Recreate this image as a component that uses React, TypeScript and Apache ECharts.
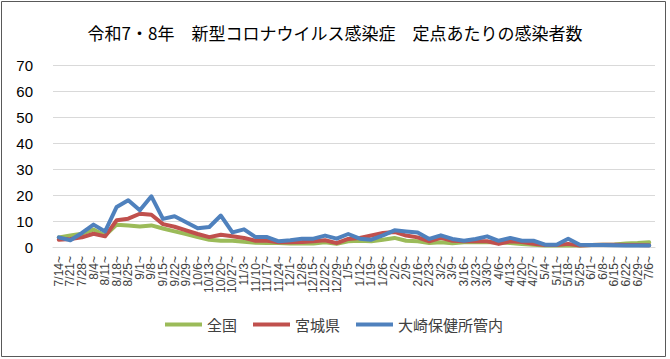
import React, { useEffect, useRef } from "react";
import * as echarts from "echarts";

// Week starting dates (Mondays), Jul 2025 – Jul 2026
const weeks = [
  "7/14~", "7/21~", "7/28~", "8/4~", "8/11~", "8/18~", "8/25~", "9/1~", "9/8~", "9/15~",
  "9/22~", "9/29~", "10/6~", "10/13~", "10/20~", "10/27~", "11/3~", "11/10~", "11/17~", "11/24~",
  "12/1~", "12/8~", "12/15~", "12/22~", "12/29~", "1/5~", "1/12~", "1/19~", "1/26~", "2/2~",
  "2/9~", "2/16~", "2/23~", "3/2~", "3/9~", "3/16~", "3/23~", "3/30~", "4/6~", "4/13~",
  "4/20~", "4/27~", "5/4~", "5/11~", "5/18~", "5/25~", "6/1~", "6/8~", "6/15~", "6/22~",
  "6/29~", "7/6~",
];

// Cases per sentinel site
const national = [
  3.7, 4.4, 5.1, 6.7, 4.4, 8.6, 8.3, 7.9, 8.3, 7.1,
  6.0, 5.0, 3.8, 2.8, 2.4, 2.4, 2.0, 1.6, 1.5, 1.5,
  1.3, 1.3, 1.3, 1.8, 1.2, 2.2, 2.4, 2.2, 2.8, 3.5,
  2.4, 2.2, 1.5, 1.8, 1.4, 1.8, 1.8, 1.9, 1.8, 1.5,
  1.2, 0.9, 0.6, 0.6, 0.6, 0.6, 0.8, 0.9, 1.0, 1.3,
  1.5, 1.8,
];
const miyagi = [
  2.8, 3.1, 3.7, 5.1, 4.1, 10.3, 10.9, 12.8, 12.4, 8.8,
  7.8, 6.4, 5.0, 3.8, 4.7, 4.1, 3.5, 2.4, 2.4, 1.8,
  1.8, 1.9, 2.2, 2.6, 1.5, 3.1, 3.5, 4.4, 5.4, 5.8,
  4.4, 3.7, 2.2, 3.5, 2.4, 2.2, 2.2, 2.2, 1.2, 2.2,
  1.9, 1.2, 0.8, 0.8, 1.2, 0.6, 0.8, 0.9, 0.9, 0.8,
  0.8, 0.7,
];
const osaki = [
  3.7, 2.6, 5.4, 8.6, 6.0, 15.4, 18.0, 14.1, 19.5, 10.8,
  11.8, 9.5, 7.2, 7.7, 12.1, 5.6, 6.8, 3.8, 3.8, 2.2,
  2.6, 3.2, 3.2, 4.4, 3.2, 5.0, 3.2, 2.8, 4.5, 6.4,
  6.0, 5.6, 3.1, 4.5, 3.1, 2.4, 3.1, 4.1, 2.4, 3.5,
  2.4, 2.4, 0.9, 0.9, 3.2, 0.9, 0.8, 0.8, 0.7, 0.6,
  0.6, 0.6,
];

const seriesNames = ["全国", "宮城県", "大崎保健所管内"];
const seriesColors = ["#9BBB59", "#C0504D", "#4F81BD"];

const JP_FONT = '"Noto Sans CJK JP", "Noto Sans", sans-serif';
const NUM_FONT = '"Liberation Sans", "Noto Sans", sans-serif';

export default function App() {
  const ref = useRef<HTMLDivElement>(null);

  useEffect(() => {
    document.body.style.margin = "0";
    if (!ref.current) return;
    const chart = echarts.init(ref.current, null, { renderer: "svg" });
    const values = [national, miyagi, osaki];

    chart.setOption({
      animation: false,
      backgroundColor: "#ffffff",
      title: {
        text: "令和7・8年　新型コロナウイルス感染症　定点あたりの感染者数",
        left: "center",
        top: 19,
        textStyle: {
          fontFamily: JP_FONT,
          fontSize: 17,
          fontWeight: "normal",
          color: "#000000",
        },
      },
      legend: {
        bottom: 22,
        left: 160,
        itemWidth: 37,
        itemHeight: 4,
        itemGap: 16,
        icon: "rect",
        data: seriesNames,
        textStyle: {
          fontFamily: JP_FONT,
          fontSize: 15,
          color: "#404040",
        },
      },
      graphic: [
        {
          type: "rect",
          shape: { x: 1.5, y: 1.5, width: 664, height: 355 },
          style: { fill: "none", stroke: "#595959", lineWidth: 1 },
          silent: true,
        },
      ],
      grid: {
        left: 53,
        right: 15,
        top: 65,
        bottom: 112,
        containLabel: false,
      },
      xAxis: {
        type: "category",
        data: weeks,
        boundaryGap: true,
        axisLine: { lineStyle: { color: "#D9D9D9", width: 1 } },
        axisTick: { show: false },
        axisLabel: {
          interval: 0,
          rotate: 90,
          margin: 9,
          fontFamily: NUM_FONT,
          fontSize: 12,
          color: "#404040",
        },
      },
      yAxis: {
        type: "value",
        min: 0,
        max: 70,
        interval: 10,
        axisLine: { show: false },
        axisTick: { show: false },
        splitLine: { lineStyle: { color: "#D9D9D9", width: 1 } },
        axisLabel: {
          margin: 20,
          fontFamily: NUM_FONT,
          fontSize: 15,
          color: "#000000",
        },
      },
      series: seriesNames.map((name, k) => ({
        name,
        type: "line",
        data: values[k],
        showSymbol: false,
        symbol: "none",
        color: seriesColors[k],
        lineStyle: { width: 4, color: seriesColors[k], cap: "round", join: "round" },
        z: 2 + k,
      })),
    });

    return () => chart.dispose();
  }, []);

  return <div ref={ref} style={{ width: 670, height: 359 }} />;
}
